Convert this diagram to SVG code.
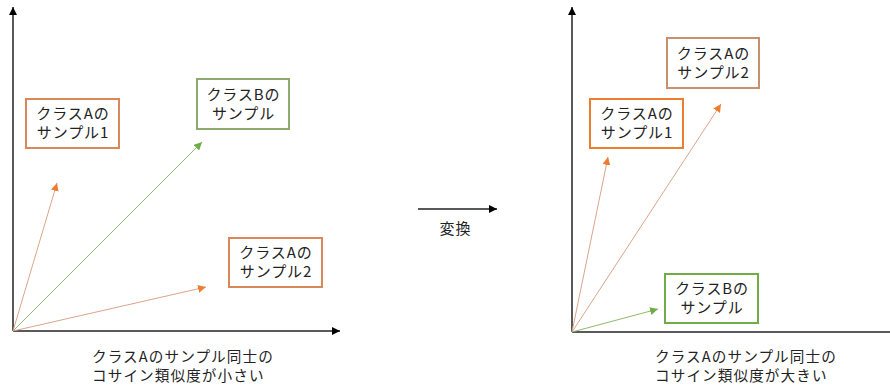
<svg xmlns="http://www.w3.org/2000/svg" width="890" height="389" viewBox="0 0 890 389">
<defs>
<marker id="ah" viewBox="0 0 10 10" refX="10" refY="5" markerWidth="8" markerHeight="8" markerUnits="userSpaceOnUse" orient="auto"><path d="M0,0 L10,5 L0,10 z" fill="#000"/></marker>
<marker id="ao" viewBox="0 0 10 10" refX="10" refY="5" markerWidth="8" markerHeight="8" markerUnits="userSpaceOnUse" orient="auto"><path d="M0,0 L10,5 L0,10 z" fill="#ED7D31"/></marker>
<marker id="ag" viewBox="0 0 10 10" refX="10" refY="5" markerWidth="8" markerHeight="8" markerUnits="userSpaceOnUse" orient="auto"><path d="M0,0 L10,5 L0,10 z" fill="#70AD47"/></marker>
</defs>
<style>
text{font-family:"Noto Sans CJK JP","Noto Sans",sans-serif;font-size:15px;letter-spacing:0.9px;fill:#222;}
.c{text-anchor:middle;}
.cap{font-size:14.6px;letter-spacing:1.1px;}
.box{fill:#fff;stroke-width:2;}
.ob{stroke:#D9885A;}
.ob2{stroke:#C8906D;}
.gb{stroke:#8FAA70;}
.gb2{stroke:#70AD47;}
.axis{stroke:#222;stroke-width:1.5;fill:none;marker-end:url(#ah);}
.vo{stroke:#D9A58A;stroke-width:1;fill:none;marker-end:url(#ao);}
.vg{stroke:#92B86F;stroke-width:1;fill:none;marker-end:url(#ag);}
</style>
<g id="connectors">
<line class="axis" x1="13" y1="331" x2="13" y2="7"/>
<line class="axis" x1="13" y1="331" x2="340" y2="331"/>
<line class="vo" x1="13" y1="331" x2="57" y2="183"/>
<line class="vg" x1="13" y1="331" x2="202" y2="142"/>
<line class="vo" x1="13" y1="331" x2="206" y2="287"/>
<line class="axis" x1="572" y1="332" x2="572" y2="7"/>
<line stroke="#222" stroke-width="1.5" x1="572" y1="332" x2="890" y2="332"/>
<line class="vo" x1="572" y1="332" x2="608" y2="157"/>
<line class="vo" x1="572" y1="332" x2="721" y2="104"/>
<line class="vg" x1="572" y1="332" x2="658" y2="309"/>
<line class="axis" x1="418" y1="209" x2="497" y2="209"/>
</g>
<g id="left-a1"><rect class="box ob" x="26" y="99" width="93" height="49"/><text class="c" x="73" y="118.5">クラスAの</text><text class="c" x="73" y="137.5">サンプル1</text></g>
<g id="left-b"><rect class="box gb" x="197" y="79" width="92" height="50"/><text class="c" x="243.5" y="100">クラスBの</text><text class="c" x="243.5" y="119">サンプル</text></g>
<g id="left-a2"><rect class="box ob" x="229" y="238" width="93" height="49"/><text class="c" x="276" y="257.5">クラスAの</text><text class="c" x="276" y="276.5">サンプル2</text></g>
<g id="left-caption"><text class="cap" x="92" y="361.5">クラスAのサンプル同士の</text><text class="cap" x="92" y="381">コサイン類似度が小さい</text></g>
<g id="transform"><text class="c" x="455.5" y="234">変換</text></g>
<g id="right-a2"><rect class="box ob2" x="667" y="38" width="92" height="50"/><text class="c" x="713.5" y="58.5">クラスAの</text><text class="c" x="713.5" y="77.5">サンプル2</text></g>
<g id="right-a1"><rect class="box" stroke="#ED7D31" x="590" y="99" width="93" height="49"/><text class="c" x="637" y="118.5">クラスAの</text><text class="c" x="637" y="137.5">サンプル1</text></g>
<g id="right-b"><rect class="box gb2" x="665" y="274" width="93" height="49"/><text class="c" x="712" y="293.5">クラスBの</text><text class="c" x="712" y="312.5">サンプル</text></g>
<g id="right-caption"><text class="cap" x="655" y="361.5">クラスAのサンプル同士の</text><text class="cap" x="655" y="381">コサイン類似度が大きい</text></g>
</svg>
